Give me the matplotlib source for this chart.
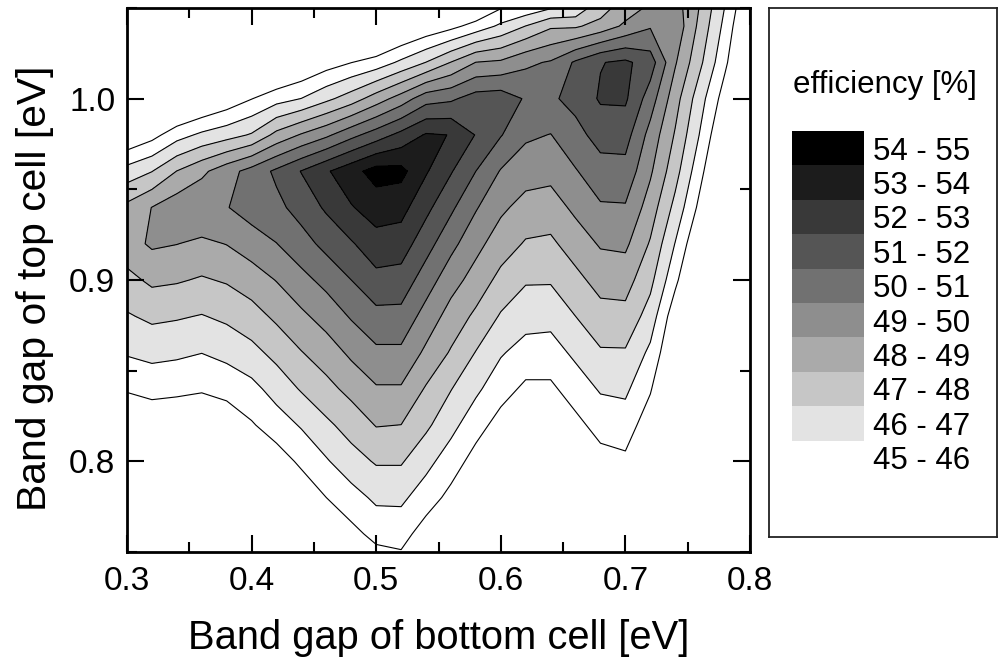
import numpy as np
import matplotlib
matplotlib.use('Agg')
import matplotlib.pyplot as plt
from matplotlib.patches import Rectangle
from matplotlib.ticker import MultipleLocator

plt.rcParams['font.family'] = ['Liberation Sans', 'DejaVu Sans']

# band gap of bottom cell [eV] (grid columns)
band_gap_bottom = [0.30, 0.32, 0.34, 0.36, 0.38, 0.40, 0.42, 0.44, 0.46, 0.48, 0.50, 0.52, 0.54,
                   0.56, 0.58, 0.60, 0.62, 0.64, 0.66, 0.68, 0.70, 0.72, 0.74, 0.76, 0.78, 0.80]
# band gap of top cell [eV] (grid rows)
band_gap_top = [0.74, 0.76, 0.78, 0.80, 0.82, 0.84, 0.86, 0.88, 0.90, 0.92, 0.94, 0.96, 0.98,
                1.00, 1.02, 1.04, 1.06]
# efficiency [%], one list per row of band_gap_top
efficiency = [
    [40.10, 40.39, 40.52, 40.44, 40.80, 41.36, 41.68, 42.47, 43.21, 43.85, 44.27, 44.48, 43.64, 43.12, 42.24, 41.47, 41.02, 41.08, 41.78, 42.41, 42.56, 41.60, 40.40, 39.00, 37.50, 36.00],
    [41.1, 41.4, 41.5, 41.4, 41.7, 42.2, 42.6, 43.4, 44.1, 44.7, 45.3, 45.4, 44.5, 43.9, 43.0, 42.3, 41.8, 41.8, 42.5, 43.2, 43.3, 42.3, 41.0, 39.6, 38.1, 36.6],
    [42.1, 42.4, 42.4, 42.3, 42.6, 43.1, 43.6, 44.3, 45.0, 45.6, 46.2, 46.2, 45.5, 44.7, 43.8, 43.0, 42.5, 42.6, 43.3, 43.9, 44.0, 43.0, 41.6, 40.2, 38.7, 37.2],
    [43.1, 43.3, 43.3, 43.2, 43.5, 44.0, 44.5, 45.2, 45.9, 46.6, 47.1, 47.1, 46.3, 45.5, 44.6, 43.8, 43.3, 43.3, 44.0, 44.6, 44.8, 43.7, 42.2, 40.8, 39.3, 37.8],
    [44.1, 44.3, 44.3, 44.2, 44.4, 44.9, 45.5, 46.1, 46.8, 47.4, 48.05, 47.99, 47.2, 46.3, 45.4, 44.6, 44.1, 44.1, 44.7, 45.4, 45.5, 44.42, 42.8, 41.2, 39.6, 38.1],
    [45.1, 45.3, 45.2, 45.1, 45.3, 45.7, 46.4, 47.1, 47.7, 48.3, 48.9, 48.9, 47.9, 47.04, 46.2, 45.4, 44.8, 44.8, 45.5, 46.1, 46.2, 45.1, 43.3, 41.5, 39.9, 38.3],
    [46.1, 46.3, 46.2, 46.02, 46.3, 46.7, 47.3, 47.96, 48.5, 49.2, 49.8, 49.8, 48.8, 47.9, 46.96, 46.1, 45.6, 45.6, 46.2, 46.9, 46.9, 45.78, 43.85, 42.0, 40.2, 38.5],
    [46.9, 47.2, 47.1, 46.95, 47.2, 47.6, 48.2, 48.8, 49.4, 50.1, 50.7, 50.7, 49.6, 48.6, 47.8, 46.9, 46.4, 46.3, 47.0, 47.6, 47.7, 46.56, 44.32, 42.4, 40.5, 38.7],
    [47.7, 48.2, 48.1, 47.9, 48.1, 48.5, 49.04, 49.7, 50.3, 51.0, 51.7, 51.6, 50.5, 49.4, 48.6, 47.7, 47.1, 47.1, 47.7, 48.4, 48.4, 47.28, 45.25, 43.2, 41.1, 39.0],
    [48.6, 49.15, 49.02, 48.8, 49.03, 49.5, 49.98, 50.6, 51.3, 51.9, 52.6, 52.5, 51.4, 50.3, 49.3, 48.5, 47.9, 47.8, 48.5, 49.1, 49.2, 47.9, 45.96, 43.9, 41.8, 39.7],
    [48.27, 49.02, 49.6, 49.9, 49.95, 50.46, 50.74, 51.4, 52.15, 52.93, 53.48, 53.34, 52.27, 51.19, 50.09, 49.19, 48.65, 48.57, 49.21, 49.88, 49.91, 48.53, 46.7, 44.7, 42.7, 40.7],
    [46.4, 46.97, 48.02, 48.77, 49.6, 50.37, 51.2, 52.04, 52.88, 53.65, 54.4, 54.3, 53.1, 52.08, 51.0, 49.93, 49.42, 49.29, 49.93, 50.62, 50.66, 49.15, 47.38, 45.3, 43.3, 41.3],
    [44.0, 44.64, 45.6, 46.2, 46.6, 47.1, 48.3, 49.1, 49.8, 50.7, 51.49, 52.3, 53.1, 52.98, 51.95, 51.06, 50.17, 49.97, 50.69, 51.37, 51.4, 49.65, 47.9, 45.92, 43.8, 41.7],
    [41.5, 42.1, 43.1, 43.7, 44.3, 44.97, 45.6, 46.02, 46.76, 47.5, 48.49, 49.45, 50.6, 50.83, 51.45, 51.55, 50.9, 50.85, 51.3, 52.12, 52.15, 50.5, 48.4, 46.4, 44.5, 42.5],
    [39.0, 39.6, 40.6, 41.2, 41.8, 42.5, 43.3, 43.9, 44.5, 44.98, 45.41, 46.2, 47.02, 48.03, 49.02, 49.17, 49.8, 50.1, 51.15, 51.95, 52.2, 51.5, 49.1, 47.2, 45.2, 43.2],
    [36.5, 37.1, 38.1, 38.7, 39.3, 40.0, 40.8, 41.4, 42.0, 42.5, 42.9, 43.6, 44.2, 44.7, 45.4, 46.2, 47.02, 47.85, 47.86, 48.4, 49.2, 49.9, 49.7, 47.7, 45.7, 43.5],
    [34.0, 34.6, 35.6, 36.2, 36.8, 37.5, 38.3, 38.9, 39.5, 40.0, 40.4, 41.0, 41.6, 42.0, 42.5, 43.7, 43.6, 44.0, 44.5, 46.5, 47.8, 48.5, 49.3, 48.1, 46.2, 44.1],
]
levels = [45, 46, 47, 48, 49, 50, 51, 52, 53, 54, 55]
legend_labels = ['54 - 55', '53 - 54', '52 - 53', '51 - 52', '50 - 51',
                 '49 - 50', '48 - 49', '47 - 48', '46 - 47', '45 - 46']
grays = ['#ffffff', '#e3e3e3', '#c6c6c6', '#aaaaaa', '#8e8e8e',
         '#717171', '#555555', '#393939', '#1c1c1c', '#000000']

Z = np.array(efficiency)
X, Y = np.meshgrid(band_gap_bottom, band_gap_top)

fig = plt.figure(figsize=(9.98, 6.57), dpi=100)
ax = fig.add_axes([127/998, 105/657, 623/998, 544/657])
ax.contourf(X, Y, Z, levels=levels, colors=grays)
ax.contour(X, Y, Z, levels=levels[:-1], colors='k', linewidths=0.8)
ax.set_xlim(0.3, 0.8)
ax.set_ylim(0.75, 1.05)
ax.xaxis.set_major_locator(MultipleLocator(0.1))
ax.xaxis.set_minor_locator(MultipleLocator(0.05))
ax.yaxis.set_major_locator(MultipleLocator(0.1))
ax.yaxis.set_minor_locator(MultipleLocator(0.05))
ax.tick_params(which='both', direction='in', top=True, right=True, width=1.5)
ax.tick_params(which='major', length=12, labelsize=24, pad=10)
ax.tick_params(axis='y', which='major', pad=8.5)
ax.tick_params(which='minor', length=7)
for s in ax.spines.values():
    s.set_linewidth(2)
ax.set_xlabel('Band gap of bottom cell [eV]', fontsize=28.7, labelpad=16)
ax.set_ylabel('Band gap of top cell [eV]', fontsize=29.3, labelpad=11)
ax.yaxis.label.set_y(0.485)

# legend box
lax = fig.add_axes([769/998, (657-537)/657, 228/998, 529/657])
lax.set_xlim(0, 228)
lax.set_ylim(529, 0)
lax.set_xticks([])
lax.set_yticks([])
for s in lax.spines.values():
    s.set_linewidth(1.3)
    s.set_color('#222222')
lax.text(24, 77, 'efficiency [%]', fontsize=22.5, va='center', ha='left')
for k, lab in enumerate(legend_labels):
    y0 = 123 + k * 34.4
    if k < 9:
        lax.add_patch(Rectangle((23, y0), 72, 34.4, facecolor=grays[9 - k], edgecolor='none'))
    lax.text(104, y0 + 17.2, lab, fontsize=22.5, va='center_baseline', ha='left')

fig.savefig('out.png', dpi=100)
